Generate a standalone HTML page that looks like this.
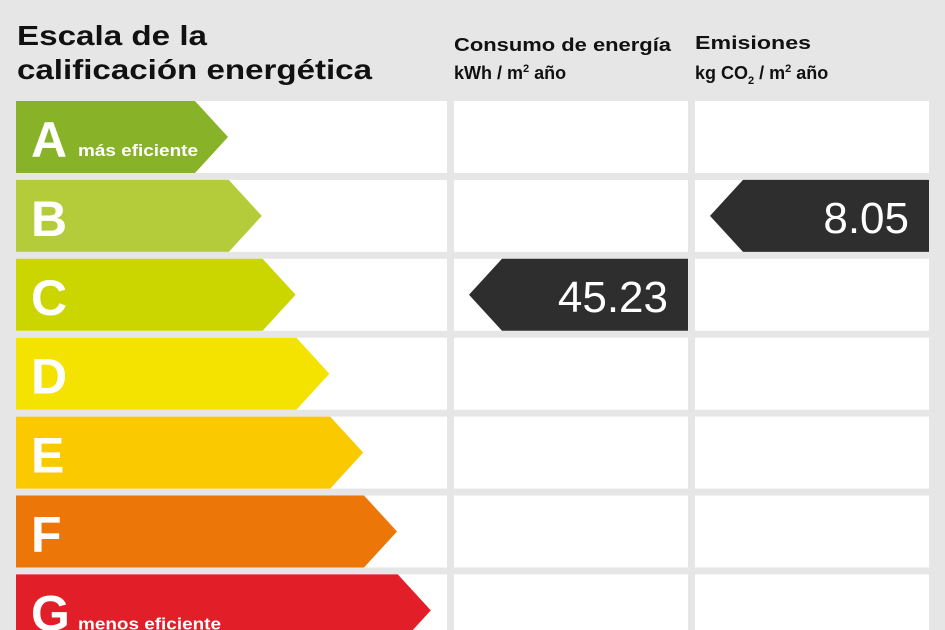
<!DOCTYPE html>
<html><head><meta charset="utf-8"><style>
body{margin:0;background:#e6e6e6;}
svg{display:block;font-family:"Liberation Sans",Arial,sans-serif;}
</style></head><body>
<svg id="chart" width="945" height="630" viewBox="0 0 945 630">
<rect width="945" height="630" fill="#e6e6e6"/>
<text x="17" y="45" font-size="28" font-weight="bold" fill="#111" textLength="190" lengthAdjust="spacingAndGlyphs">Escala de la</text>
<text x="17" y="79" font-size="28" font-weight="bold" fill="#111" textLength="355" lengthAdjust="spacingAndGlyphs">calificación energética</text>
<text x="454" y="51" font-size="18" font-weight="bold" fill="#111" textLength="217" lengthAdjust="spacingAndGlyphs">Consumo de energía</text>
<text x="454" y="79" font-size="18" font-weight="bold" fill="#111">kWh / m<tspan font-size="11" dy="-7">2</tspan><tspan dy="7"> año</tspan></text>
<text x="695" y="49" font-size="18" font-weight="bold" fill="#111" textLength="116" lengthAdjust="spacingAndGlyphs">Emisiones</text>
<text x="695" y="79" font-size="18" font-weight="bold" fill="#111">kg CO<tspan font-size="11" dy="5">2</tspan><tspan dy="-5"> / m</tspan><tspan font-size="11" dy="-7">2</tspan><tspan dy="7"> año</tspan></text>
<g id="rows"></g>
</svg>
<script>
const grades = ["A","B","C","D","E","F","G"];
const gradeColors = ["#88b227","#b4cc39","#cbd600","#f4e300","#fbc900","#ec7608","#e21f29"];
const subLabels = ["más eficiente","","","","","","menos eficiente"];
const consumptionValue = 45.23;
const consumptionGrade = "C";
const emissionsValue = 8.05;
const emissionsGrade = "B";

const NS="http://www.w3.org/2000/svg";
const g=document.getElementById("rows");
const rowY=i=>101+i*78.9;
const rowH=72;
function mk(tag,attrs){const e=document.createElementNS(NS,tag);for(const k in attrs)e.setAttribute(k,attrs[k]);g.appendChild(e);return e;}
grades.forEach((gr,i)=>{
  const y=rowY(i);
  const c1=mk("rect",{x:16,y:y,width:431,height:rowH,fill:"#fff"});
  
  
  const c2=mk("rect",{x:454,y:y,width:234,height:rowH,fill:"#fff"});
  
  
  const c3=mk("rect",{x:695,y:y,width:234,height:rowH,fill:"#fff"});
  
  
  const end=195+i*33.8, tip=end+33;
  const p=mk("polygon",{points:`16,${y} ${end},${y} ${tip},${y+rowH/2} ${end},${y+rowH} 16,${y+rowH}`,fill:gradeColors[i]});
  
  
  const t=mk("text",{x:31,y:y+56,"font-size":50,"font-weight":"bold",fill:"#fff"});
  t.textContent=gr;
  
  
  if(subLabels[i]){
    const s=mk("text",{x:78,y:y+55,"font-size":17,"font-weight":"bold",fill:"#fff",textLength:gr==="G"?143:120,lengthAdjust:"spacingAndGlyphs"});
    s.textContent=subLabels[i];
    
    
  }
});
function marker(colX,colW,grade,val,name){
  const i=grades.indexOf(grade), y=rowY(i), r=colX+colW, t=colX+15, b=t+33;
  const p=mk("polygon",{points:`${t},${y+rowH/2} ${b},${y} ${r},${y} ${r},${y+rowH} ${b},${y+rowH}`,fill:"#2e2e2e"});
  
  
  const tx=mk("text",{x:r-20,y:y+53,"font-size":44,fill:"#fff","text-anchor":"end"});
  tx.textContent=val.toFixed(2);
  
  
}
marker(454,234,consumptionGrade,consumptionValue,"consumption");
marker(695,234,emissionsGrade,emissionsValue,"emissions");
</script>
</body></html>
